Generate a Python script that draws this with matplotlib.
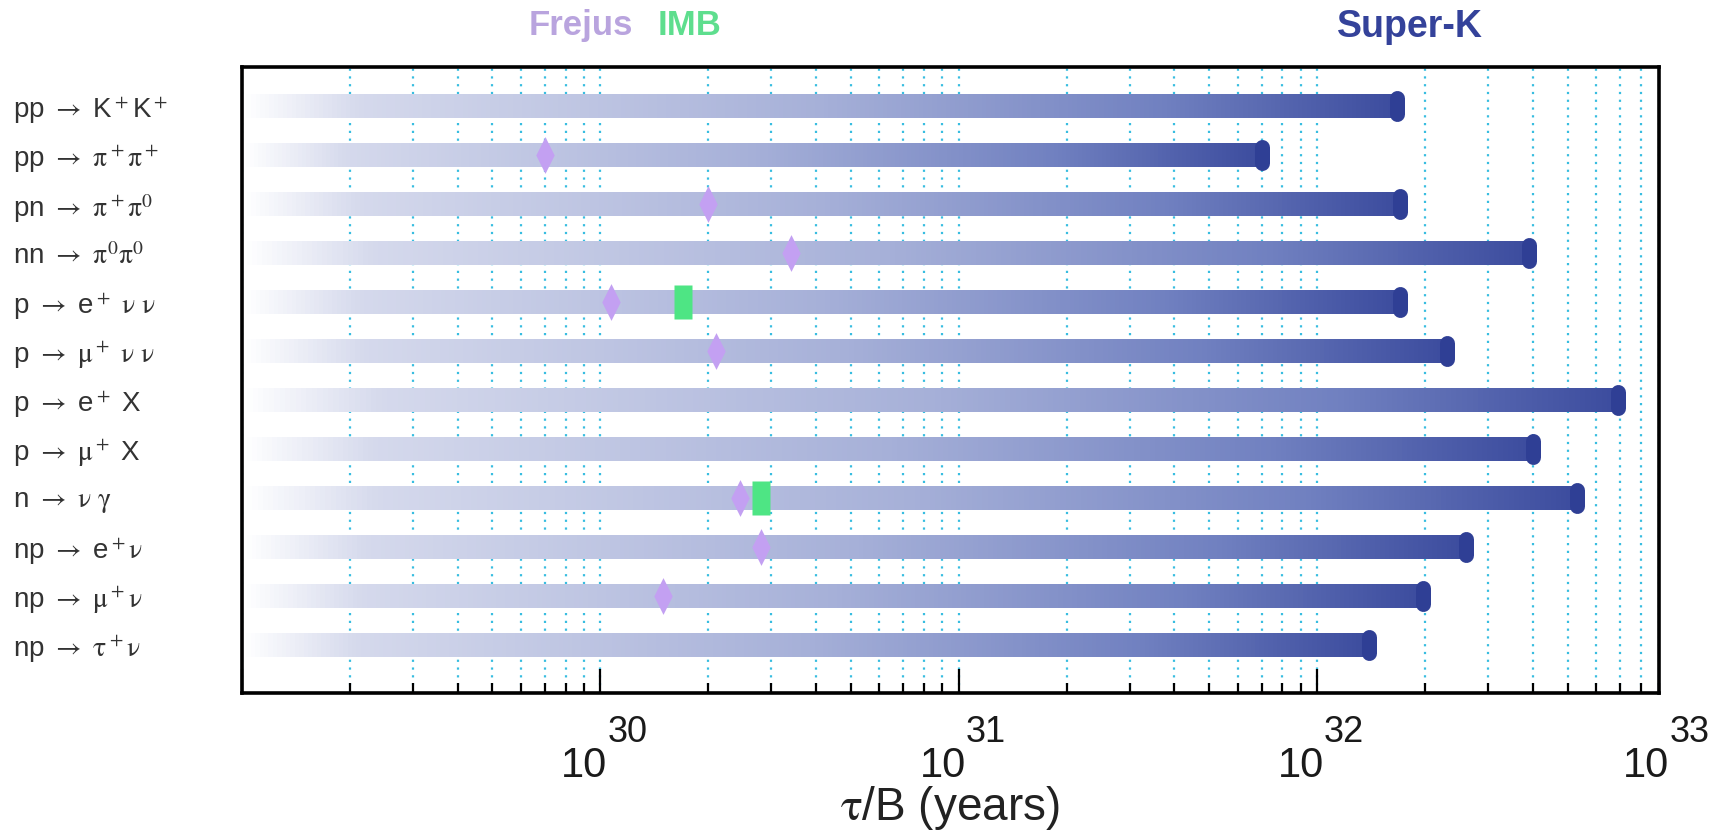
import numpy as np
import matplotlib
matplotlib.use('Agg')
import matplotlib.pyplot as plt
from matplotlib.colors import LinearSegmentedColormap
from matplotlib import transforms

plt.rcParams['font.family'] = ['Liberation Sans', 'DejaVu Sans']
plt.rcParams['mathtext.fontset'] = 'stix'

# decay channels, top to bottom
channels = [r'pp $\rightarrow$ K$^+$K$^+$',
            r'pp $\rightarrow$ $\mathrm{\pi^+\pi^+}$',
            r'pn $\rightarrow$ $\mathrm{\pi^+\pi}$$^0$',
            r'nn $\rightarrow$ $\mathrm{\pi}$$^0$$\mathrm{\pi}$$^0$',
            r'p $\rightarrow$ e$^+$ $\mathrm{\nu}$ $\mathrm{\nu}$',
            r'p $\rightarrow$ $\mathrm{\mu^+}$ $\mathrm{\nu}$ $\mathrm{\nu}$',
            r'p $\rightarrow$ e$^+$ X',
            r'p $\rightarrow$ $\mathrm{\mu^+}$ X',
            r'n $\rightarrow$ $\mathrm{\nu}$ $\mathrm{\gamma}$',
            r'np $\rightarrow$ e$^+$$\mathrm{\nu}$',
            r'np $\rightarrow$ $\mathrm{\mu^+\nu}$',
            r'np $\rightarrow$ $\mathrm{\tau^+\nu}$']

# lifetime limits (years)
superk = [1.67e32, 7.0e31, 1.7e32, 3.9e32, 1.7e32, 2.3e32,
          6.9e32, 4.0e32, 5.3e32, 2.6e32, 1.97e32, 1.4e32]
frejus_rows = [2, 3, 4, 5, 6, 9, 10, 11]
frejus_vals = [7.0e29, 2.0e30, 3.4e30, 1.07e30, 2.1e30, 2.45e30, 2.8e30, 1.5e30]
imb_rows = [5, 9]
imb_vals = [1.7e30, 2.8e30]

decades = [30, 31, 32, 33]

rows = np.arange(1, len(channels) + 1)

fig = plt.figure(figsize=(17.26, 8.34), dpi=100)
ax = fig.add_axes([0.1402, 0.1691, 0.8210, 0.7506])

cmap = LinearSegmentedColormap.from_list('bar', [
    (0.0, '#ffffff'), (0.1, '#d5d9ec'), (0.5, '#a6b0d8'),
    (0.8, '#7080c0'), (1.0, '#3c4c9e')])

half = 0.25
for y, v in zip(rows, superk):
    xe = np.geomspace(1e29, v, 257)
    ye = [y - half, y + half]
    c = np.linspace(0, 1, 256).reshape(1, -1)
    ax.pcolormesh(xe, ye, c, cmap=cmap, shading='flat', zorder=2,
                  edgecolors='none', antialiased=False)
    # end cap
    ax.plot([v, v], [y - 0.16, y + 0.16], color='#2f3f95', lw=10.8,
            solid_capstyle='round', zorder=4)

diamond = [(0, 1), (0.5, 0), (0, -1), (-0.5, 0), (0, 1)]
rect = [(-0.5, -1), (0.5, -1), (0.5, 1), (-0.5, 1), (-0.5, -1)]
ax.plot(frejus_vals, frejus_rows, linestyle='none', marker=diamond,
        ms=26.5, color='#c3a0f2', mec='none', zorder=5)
ax.plot(imb_vals, imb_rows, linestyle='none', marker=rect,
        ms=25, color='#4ee584', mec='none', zorder=6)

ax.set_xscale('log')
ax.set_xlim(1e29, 9e32)
ax.set_ylim(12.98, 0.2)

ax.set_axisbelow(True)
ax.grid(True, which='both', axis='x', color='#38bde0',
        linestyle=(0, (1, 2.5)), lw=1.6)

ax.tick_params(axis='x', which='major', direction='in', length=17, width=1.6,
               top=False, labelbottom=False, color='black')
ax.tick_params(axis='x', which='minor', direction='in', length=7.5, width=1.6,
               top=False, labelbottom=False, color='black')

ax.set_yticks(rows)
ax.set_yticklabels(channels, fontsize=20, color='#333333')
ax.tick_params(axis='y', length=0, pad=165)
for lab in ax.get_yticklabels():
    lab.set_horizontalalignment('left')

for s in ax.spines.values():
    s.set_linewidth(2.6)
    s.set_color('black')

# decade labels written as 10 with a raised exponent
base = transforms.blended_transform_factory(ax.transData, fig.transFigure)
shift = base + transforms.ScaledTranslation(7 / 100, 0, fig.dpi_scale_trans)
for e in decades:
    xpos = 10.0 ** e if e < 33 else 9.2e32
    ax.text(xpos, 1 - 777 / 834, '10', transform=shift, ha='right',
            va='baseline', fontsize=30, color='#1a1a1a', clip_on=False)
    ax.text(xpos, 1 - 742 / 834, str(e), transform=shift, ha='left',
            va='baseline', fontsize=26, color='#1a1a1a', clip_on=False)

fig.text(0.5505, 1 - 820 / 834, r'$\mathrm{\tau}$/B (years)', ha='center',
         va='baseline', fontsize=33, color='#222222')

fig.text(581 / 1726, 1 - 35 / 834, 'Frejus', ha='center', va='baseline',
         fontsize=25, fontweight='bold', color='#b9a4de')
fig.text(690 / 1726, 1 - 35 / 834, 'IMB', ha='center', va='baseline',
         fontsize=25, fontweight='bold', color='#5ede8e')
fig.text(1410 / 1726, 1 - 37 / 834, 'Super-K', ha='center', va='baseline',
         fontsize=27, fontweight='bold', color='#34429a')

fig.savefig('out.png', dpi=100)
